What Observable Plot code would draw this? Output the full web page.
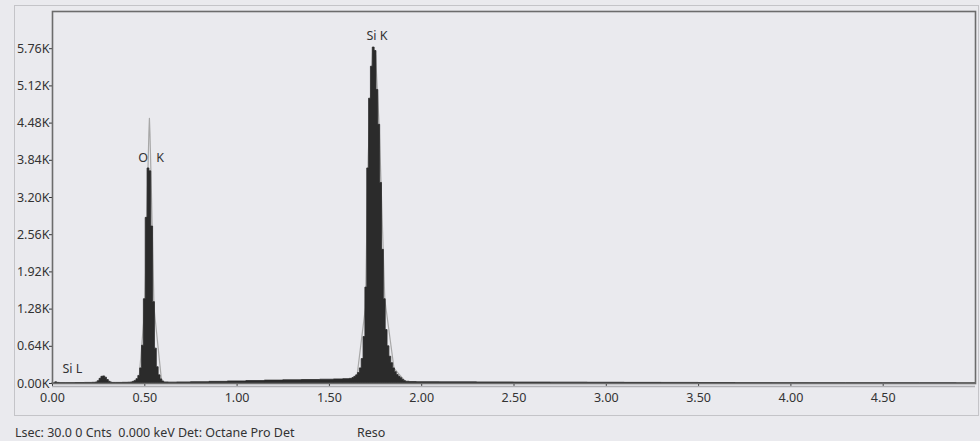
<!DOCTYPE html>
<html>
<head>
<meta charset="utf-8">
<script src="https://cdn.jsdelivr.net/npm/d3@7"></script>
<script src="https://cdn.jsdelivr.net/npm/@observablehq/plot@0.6"></script>
<style>
  html, body { margin: 0; padding: 0; background: #eaeaee; }
  #wrap { position: relative; width: 980px; height: 441px; background: #eaeaee; overflow: hidden; font-family: "Noto Sans", sans-serif; }
  #panel { position: absolute; left: 14px; top: 5px; width: 963px; height: 409px; border: 1px solid #c4c4c8; }
  #chart { position: absolute; left: 0; top: 0; }
  .cap { position: absolute; top: 425px; font-size: 12.5px; line-height: 15px; color: #333; white-space: pre; }
</style>
</head>
<body>
<div id="wrap">
  <div id="panel"></div>
  <div id="chart"></div>
  <div class="cap" id="cap1" style="left:15px"></div>
  <div class="cap" id="cap2" style="left:357px"></div>
</div>
<script>
// Spectrum channels (keV) and counts
const energy = [
  0.00, 0.01, 0.02, 0.03, 0.05, 0.10, 0.15, 0.20, 0.23,
  0.24, 0.25, 0.26, 0.27, 0.28, 0.29, 0.30, 0.31, 0.32, 0.33,
  0.36, 0.40, 0.42,
  0.43, 0.44, 0.45, 0.46, 0.47, 0.48, 0.49, 0.50, 0.51, 0.52, 0.53, 0.54, 0.55, 0.56, 0.57, 0.58, 0.59, 0.60, 0.61,
  0.65, 0.70, 0.80, 0.90, 1.00, 1.10, 1.20, 1.30, 1.40, 1.50, 1.55, 1.60,
  1.62, 1.63, 1.64, 1.65, 1.66, 1.67, 1.68, 1.69, 1.70, 1.71, 1.72, 1.73, 1.74, 1.75, 1.76, 1.77, 1.78, 1.79, 1.80,
  1.81, 1.82, 1.83, 1.84, 1.85, 1.86, 1.87, 1.88, 1.89, 1.90, 1.91, 1.92, 1.95,
  2.00, 2.20, 2.40, 2.60, 2.80, 3.00, 3.20, 3.40, 3.60, 3.80, 4.00, 4.20, 4.40, 4.60, 4.80, 5.00
];
const counts = [
  0, 0, 20, 10, 6, 6, 8, 10, 12,
  18, 40, 80, 115, 122, 100, 60, 30, 15, 10,
  10, 12, 14,
  18, 28, 45, 75, 130, 260, 650, 1450, 2850, 3700, 3650, 2700, 1400, 600, 280, 140, 70, 35, 18,
  15, 18, 22, 28, 35, 42, 50, 55, 60, 65, 70, 75,
  80, 95, 115, 140, 180, 260, 420, 800, 1650, 3700, 4900, 5450, 5780, 5720, 5050, 4450, 3450, 2300, 1450,
  920, 640, 460, 350, 260, 195, 145, 115, 90, 60, 40, 30, 25,
  22, 20, 18, 16, 15, 13, 11, 10, 8, 6, 5, 4, 4, 3, 3, 2
];

// Grey fitted/overlay line, one trace per peak
const overlayPeak = ["O K", "O K", "O K", "O K", "O K", "O K", "O K", "O K", "O K",
                     "Si K", "Si K", "Si K", "Si K", "Si K", "Si K", "Si K", "Si K", "Si K"];
const overlayEnergy = [0.47, 0.50, 0.515, 0.522, 0.525, 0.528, 0.535, 0.55, 0.59,
                       1.65, 1.695, 1.71, 1.735, 1.75, 1.77, 1.80, 1.85, 1.91];
const overlayCounts = [130, 1300, 3400, 4300, 4560, 4300, 3400, 1300, 70,
                       140, 1300, 3900, 5780, 5650, 4400, 1450, 260, 40];

// Peak labels
const labelText = ["Si L", "O\u2002\u2009K", "Si K"];
const labelEnergy = [0.108, 0.534, 1.758];
const labelCounts = [258, 3888, 5987];

// Axis ticks
const yTicks = [0, 640, 1280, 1920, 2560, 3200, 3840, 4480, 5120, 5760];
const xTicks = [0, 0.5, 1, 1.5, 2, 2.5, 3, 3.5, 4, 4.5];

const captionLeft = "Lsec: 30.0 0 Cnts  0.000 keV Det: Octane Pro Det";
const captionRight = "Reso";

const spectrum = energy.map((e, i) => ({e, c: counts[i]}));
const overlay = overlayEnergy.map((e, i) => ({e, c: overlayCounts[i], p: overlayPeak[i]}));
const labels = labelText.map((t, i) => ({t, e: labelEnergy[i], c: labelCounts[i]}));

const chart = Plot.plot({
  width: 980,
  height: 420,
  marginLeft: 52,
  marginRight: 5,
  marginTop: 11,
  marginBottom: 37,
  style: {background: "transparent", fontFamily: "'Noto Sans', sans-serif", fontSize: "12.5px", color: "#333"},
  x: {domain: [0, 5], ticks: xTicks, tickFormat: d => d.toFixed(2), tickSize: 4, tickPadding: 6, label: null},
  y: {domain: [0, 6400], ticks: yTicks, tickFormat: d => (d / 1000).toFixed(2) + "K", tickSize: 3, tickPadding: 0, label: null},
  marks: [
    Plot.ruleY([0], {stroke: "#b0b0b4", strokeWidth: 1.5, dy: 3}),
    Plot.line(overlay, {x: "e", y: "c", z: "p", stroke: "#a8a8a8", strokeWidth: 1.2}),
    Plot.areaY(spectrum, {x: "e", y1: 0, y2: "c", curve: "step", fill: "#2b2b2b", stroke: "#2b2b2b", strokeWidth: 0.8, strokeLinejoin: "miter"}),
    Plot.text(labels, {x: "e", y: "c", text: "t", fill: "#333", fontSize: 12.5}),
    Plot.frame({stroke: "#6c6c6c", strokeWidth: 1.6})
  ]
});
document.getElementById("chart").appendChild(chart);
document.getElementById("cap1").textContent = captionLeft;
document.getElementById("cap2").textContent = captionRight;
</script>
</body>
</html>
